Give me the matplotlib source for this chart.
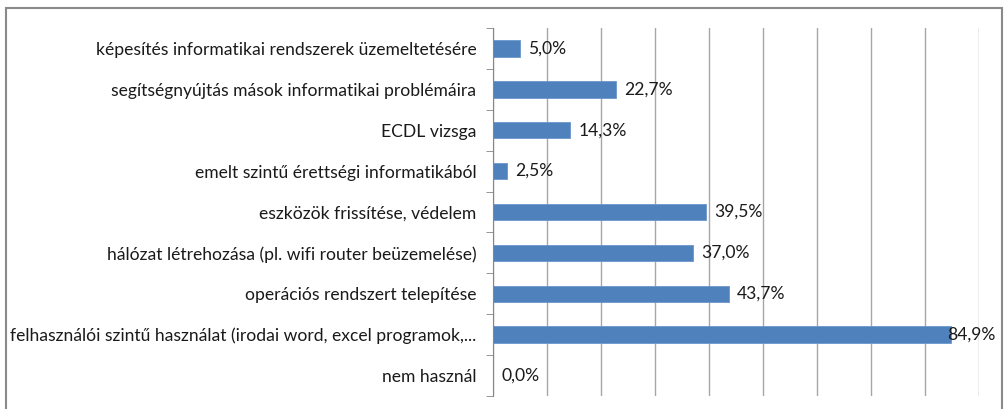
import matplotlib
matplotlib.use("Agg")
import matplotlib.pyplot as plt
from matplotlib.patches import Rectangle

# answers, listed from bottom to top of the chart
categories = [
    "nem használ",
    "felhasználói szintű használat (irodai word, excel programok,...",
    "operációs rendszert telepítése",
    "hálózat létrehozása (pl. wifi router beüzemelése)",
    "eszközök frissítése, védelem",
    "emelt szintű érettségi informatikából",
    "ECDL vizsga",
    "segítségnyújtás mások informatikai problémáira",
    "képesítés informatikai rendszerek üzemeltetésére",
]
values = [0.0, 84.9, 43.7, 37.0, 39.5, 2.5, 14.3, 22.7, 5.0]

plt.rcParams['font.family'] = ['Lato', 'DejaVu Sans']
FS = 12.6

W, H = 1006, 409
fig = plt.figure(figsize=(W / 100, H / 100), dpi=100)

# chart frame
fig.patches.append(Rectangle((6 / W, -0.05), (1002 - 6) / W, (409 - 8) / H + 0.05,
                             transform=fig.transFigure, fill=False,
                             edgecolor="#8a8a8a", linewidth=1.5))

ax = fig.add_axes([493 / W, 13 / H, (979 - 493) / W, (396 - 28) / H])

y = range(len(categories))
ax.barh(y, values, height=0.4, color="#4f81bd", edgecolor="#6a97cc", linewidth=0.6, zorder=3)

ax.set_xlim(0, 90)
ax.set_ylim(-0.5, len(categories) - 0.5)
ax.set_xticks(range(0, 91, 10))
ax.xaxis.grid(True, color="#a6a6a6", linewidth=1.0, zorder=0)
ax.tick_params(axis="x", length=0, labelbottom=False)

ax.set_yticks(list(y))
ax.set_yticklabels(categories, fontsize=FS, color="#1a1a1a")
ax.set_yticks([i - 0.5 for i in range(len(categories) + 1)], minor=True)
ax.tick_params(axis="y", which="major", length=0, pad=12)
ax.tick_params(axis="y", which="minor", length=5, color="#868686", direction="out")

for side in ["top", "right", "bottom"]:
    ax.spines[side].set_visible(False)
ax.spines["left"].set_color("#868686")
ax.spines["left"].set_zorder(4)

for yi, v in zip(y, values):
    label = f"{v:.1f}%".replace(".", ",")
    if v > 80:
        ax.text(93, yi, label, ha="right", va="center", fontsize=FS,
                color="#1a1a1a", clip_on=False, zorder=5)
    else:
        ax.annotate(label, (v, yi), xytext=(6, 0), textcoords="offset points",
                    ha="left", va="center", fontsize=FS, color="#1a1a1a")

fig.savefig("out.png", dpi=100)
